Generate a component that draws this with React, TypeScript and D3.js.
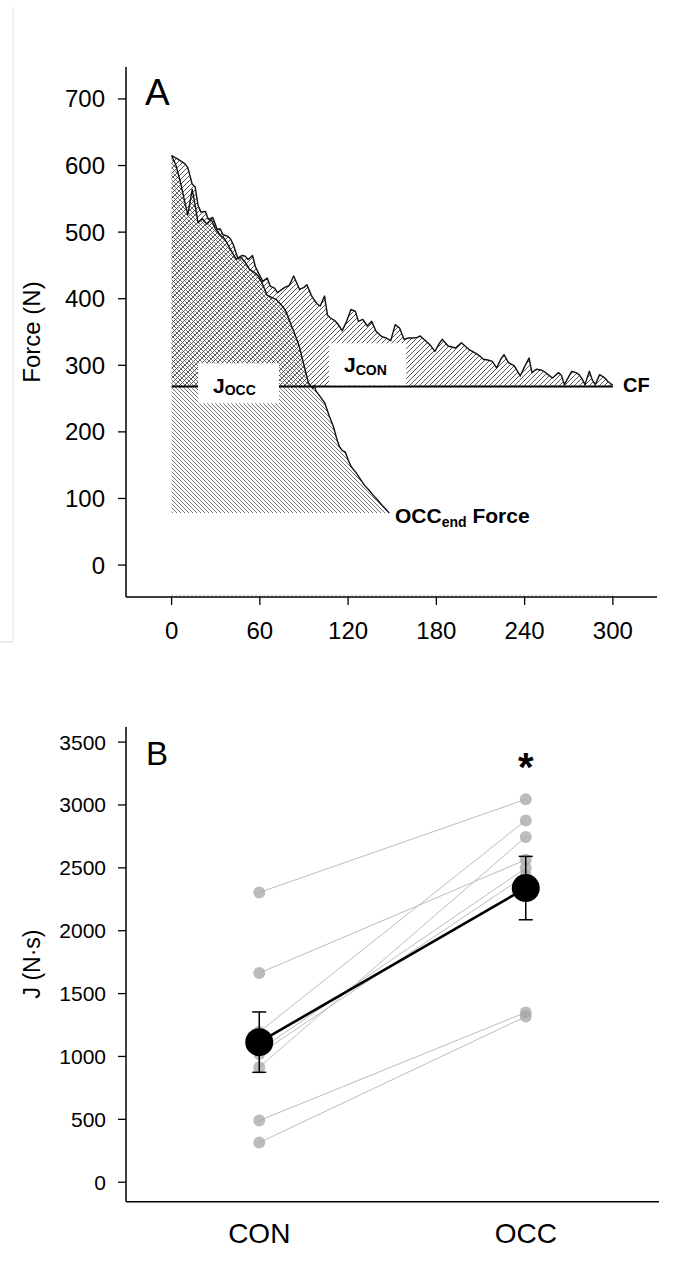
import React from 'react';
import * as d3 from 'd3';

// Panel A - force traces (time in s, force in N)
const conTime = [0, 4, 9, 11, 14, 16, 18, 20, 23, 25, 28, 31, 33, 35, 38, 40, 42, 45, 48, 50, 52, 55, 57, 59, 62, 65, 67, 70, 72, 75, 77, 80, 83, 85, 87, 90, 92, 95, 97, 99, 101, 104, 106, 108, 111, 113, 116, 119, 122, 125, 127, 130, 133, 136, 139, 143, 146, 149, 152, 155, 158, 161, 164, 167, 169, 173, 176, 179, 182, 184, 188, 193, 197, 202, 206, 209, 212, 215, 218, 221, 224, 226, 229, 233, 237, 240, 243, 245, 248, 251, 253, 256, 259, 263, 265, 267, 270, 272, 275, 277, 279, 281, 284, 286, 288, 291, 294, 297, 300];
const conForce = [615, 610, 603, 597, 572, 568, 540, 530, 531, 519, 522, 504, 505, 496, 494, 490, 481, 461, 465, 464, 459, 465, 448, 439, 426, 431, 419, 416, 409, 414, 417, 420, 434, 424, 414, 417, 421, 405, 398, 392, 389, 404, 375, 371, 367, 362, 352, 366, 384, 381, 366, 369, 359, 366, 351, 343, 341, 337, 361, 356, 339, 341, 341, 342, 344, 336, 330, 321, 333, 339, 329, 326, 334, 324, 319, 315, 309, 308, 306, 296, 310, 316, 304, 299, 284, 298, 311, 289, 294, 293, 291, 286, 281, 289, 285, 271, 283, 291, 289, 286, 280, 271, 291, 278, 271, 286, 282, 275, 270];

const occTime = [0, 3, 6, 9, 11, 14, 16, 18, 21, 24, 27, 30, 33, 36, 40, 44, 47, 50, 53, 56, 59, 62, 65, 68, 71, 74, 77, 79, 81, 83, 86, 88, 90, 93, 95, 96, 97, 98, 100, 102, 104, 107, 110, 112, 114, 116, 118, 120, 122, 125, 128, 131, 134, 137, 140, 143, 146, 148];
const occForce = [615, 600, 575, 545, 526, 564, 540, 514, 520, 512, 519, 504, 496, 490, 474, 459, 462, 455, 444, 440, 434, 421, 405, 402, 399, 392, 384, 374, 362, 351, 334, 318, 300, 274, 268, 265, 270, 262, 256, 250, 244, 225, 208, 192, 178, 172, 170, 158, 148, 140, 130, 120, 113, 105, 98, 90, 83, 78];

const cfForce = 268;
const occEndForce = 78;

const forceTicks = [0, 100, 200, 300, 400, 500, 600, 700];
const timeTicks = [0, 60, 120, 180, 240, 300];

// Panel B - impulse per subject (N·s)
const groups = ['CON', 'OCC'];
const conJ = [2304, 1663, 1196, 915, 1050, 1020, 490, 315];
const occJ = [3045, 2564, 2877, 2745, 2498, 2440, 1350, 1317];
const meanJ = [1114, 2339];
const semJ = [240, 252];
const jTicks = [0, 500, 1000, 1500, 2000, 2500, 3000, 3500];

const font = "Arial, 'Liberation Sans', sans-serif";

export default function App() {
  const xA = d3.scaleLinear().domain([-31, 330]).range([126, 657]);
  const yA = d3.scaleLinear().domain([-48, 748]).range([597, 67]);

  const conPts = conTime.map((t, i) => [t, conForce[i]] as [number, number]);
  const occPts = occTime.map((t, i) => [t, occForce[i]] as [number, number]);

  const line = d3.line<[number, number]>().x(d => xA(d[0])).y(d => yA(d[1]));
  const conArea = d3.area<[number, number]>().x(d => xA(d[0])).y0(yA(cfForce)).y1(d => yA(d[1]));
  const occArea = d3.area<[number, number]>().x(d => xA(d[0])).y0(yA(occEndForce)).y1(d => yA(d[1]));

  const xB = d3.scalePoint<string>().domain(groups).range([126, 659]).padding(0.5);
  const yB = d3.scaleLinear().domain([-155, 3620]).range([1201.7, 727]);

  return (
    <svg width={678} height={1268} style={{ position: 'absolute', left: 0, top: 0, background: '#fff' }} fontFamily={font}>
      <defs>
        <pattern id="fwd" patternUnits="userSpaceOnUse" width={5} height={5}>
          <path d="M0,5 L5,0 M-1,1 L1,-1 M4,6 L6,4" stroke="#3a3a3a" strokeWidth={0.85} />
        </pattern>
        <pattern id="back" patternUnits="userSpaceOnUse" width={4} height={4}>
          <path d="M0,0 L4,4 M-1,3 L1,5 M3,-1 L5,1" stroke="#4a4a4a" strokeWidth={0.75} />
        </pattern>
      </defs>

      {/* faint frame remnant on the left */}
      <line x1={13} x2={13} y1={7} y2={642} stroke="#e2e2e2" />
      <line x1={0} x2={13} y1={642} y2={642} stroke="#d8d8d8" />

      {/* ---------- panel A ---------- */}
      <path d={occArea(occPts) || ''} fill="url(#back)" />
      <path d={conArea(conPts) || ''} fill="url(#fwd)" />
      <line x1={xA(0)} x2={xA(300)} y1={yA(cfForce)} y2={yA(cfForce)} stroke="#000" strokeWidth={2} />
      <path d={line(conPts) || ''} fill="none" stroke="#111" strokeWidth={1.4} strokeLinejoin="round" />
      <path d={line(occPts) || ''} fill="none" stroke="#111" strokeWidth={1.4} strokeLinejoin="round" />

      <rect x={xA(18)} y={yA(303)} width={xA(73) - xA(18)} height={yA(243) - yA(303)} fill="#fff" />
      <rect x={xA(107)} y={yA(333)} width={xA(159.5) - xA(107)} height={yA(270) - yA(333)} fill="#fff" />
      <text x={213} y={393} fontWeight="bold" fontSize={21}>J<tspan fontSize={14} dy={2}>OCC</tspan></text>
      <text x={344} y={372} fontWeight="bold" fontSize={21}>J<tspan fontSize={14} dy={3}>CON</tspan></text>
      <text x={623} y={392} fontWeight="bold" fontSize={20}>CF</text>
      <text x={395} y={523} fontWeight="bold" fontSize={21}>OCC<tspan fontSize={14} dy={4}>end</tspan><tspan dy={-4}> Force</tspan></text>

      <line x1={xA(0)} x2={xA(300)} y1={595} y2={595} stroke="#999" strokeDasharray="1 3" />
      <line x1={126} x2={126} y1={67} y2={597} stroke="#000" strokeWidth={1.5} />
      <line x1={126} x2={657} y1={597} y2={597} stroke="#000" strokeWidth={1.5} />
      {forceTicks.map(v => (
        <g key={'fa' + v}>
          <line x1={118} x2={126} y1={yA(v)} y2={yA(v)} stroke="#000" strokeWidth={1.3} />
          <text x={105} y={yA(v) + 8.5} textAnchor="end" fontSize={24}>{v}</text>
        </g>
      ))}
      {timeTicks.map(v => (
        <g key={'ta' + v}>
          <line x1={xA(v)} x2={xA(v)} y1={597} y2={605} stroke="#000" strokeWidth={1.3} />
          <text x={xA(v)} y={639} textAnchor="middle" fontSize={24}>{v}</text>
        </g>
      ))}
      <text transform="translate(40,332) rotate(-90)" textAnchor="middle" fontSize={24}>Force (N)</text>
      <text x={145} y={105} fontSize={37}>A</text>

      {/* ---------- panel B ---------- */}
      {conJ.map((v, i) => (
        <line key={'sl' + i} x1={xB('CON')} x2={xB('OCC')} y1={yB(v)} y2={yB(occJ[i])} stroke="#bdbdbd" strokeWidth={1} />
      ))}
      {conJ.map((v, i) => (
        <g key={'sp' + i}>
          <circle cx={xB('CON')} cy={yB(v)} r={6} fill="#a6a6a6" fillOpacity={0.75} />
          <circle cx={xB('OCC')} cy={yB(occJ[i])} r={6} fill="#a6a6a6" fillOpacity={0.75} />
        </g>
      ))}
      <line x1={xB('CON')} x2={xB('OCC')} y1={yB(meanJ[0])} y2={yB(meanJ[1])} stroke="#000" strokeWidth={2.6} />
      {groups.map((g, i) => (
        <g key={'m' + g}>
          <line x1={xB(g)} x2={xB(g)} y1={yB(meanJ[i] - semJ[i])} y2={yB(meanJ[i] + semJ[i])} stroke="#000" strokeWidth={1.5} />
          <line x1={(xB(g) as number) - 7} x2={(xB(g) as number) + 7} y1={yB(meanJ[i] + semJ[i])} y2={yB(meanJ[i] + semJ[i])} stroke="#000" strokeWidth={1.5} />
          <line x1={(xB(g) as number) - 7} x2={(xB(g) as number) + 7} y1={yB(meanJ[i] - semJ[i])} y2={yB(meanJ[i] - semJ[i])} stroke="#000" strokeWidth={1.5} />
          <circle cx={xB(g)} cy={yB(meanJ[i])} r={14} fill="#000" />
        </g>
      ))}
      <text x={xB('OCC')} y={781} textAnchor="middle" fontSize={40} fontWeight="bold">*</text>

      <line x1={126} x2={126} y1={727} y2={1201.7} stroke="#000" strokeWidth={1.5} />
      <line x1={126} x2={659} y1={1201.7} y2={1201.7} stroke="#000" strokeWidth={1.5} />
      {jTicks.map(v => (
        <g key={'jb' + v}>
          <line x1={118} x2={126} y1={yB(v)} y2={yB(v)} stroke="#000" strokeWidth={1.3} />
          <text x={106} y={yB(v) + 7.5} textAnchor="end" fontSize={21}>{v}</text>
        </g>
      ))}
      {groups.map(g => (
        <text key={'gl' + g} x={xB(g)} y={1243} textAnchor="middle" fontSize={28}>{g}</text>
      ))}
      <text transform="translate(40,964) rotate(-90)" textAnchor="middle" fontSize={23}>J (N·s)</text>
      <text x={146} y={765} fontSize={33}>B</text>
    </svg>
  );
}
